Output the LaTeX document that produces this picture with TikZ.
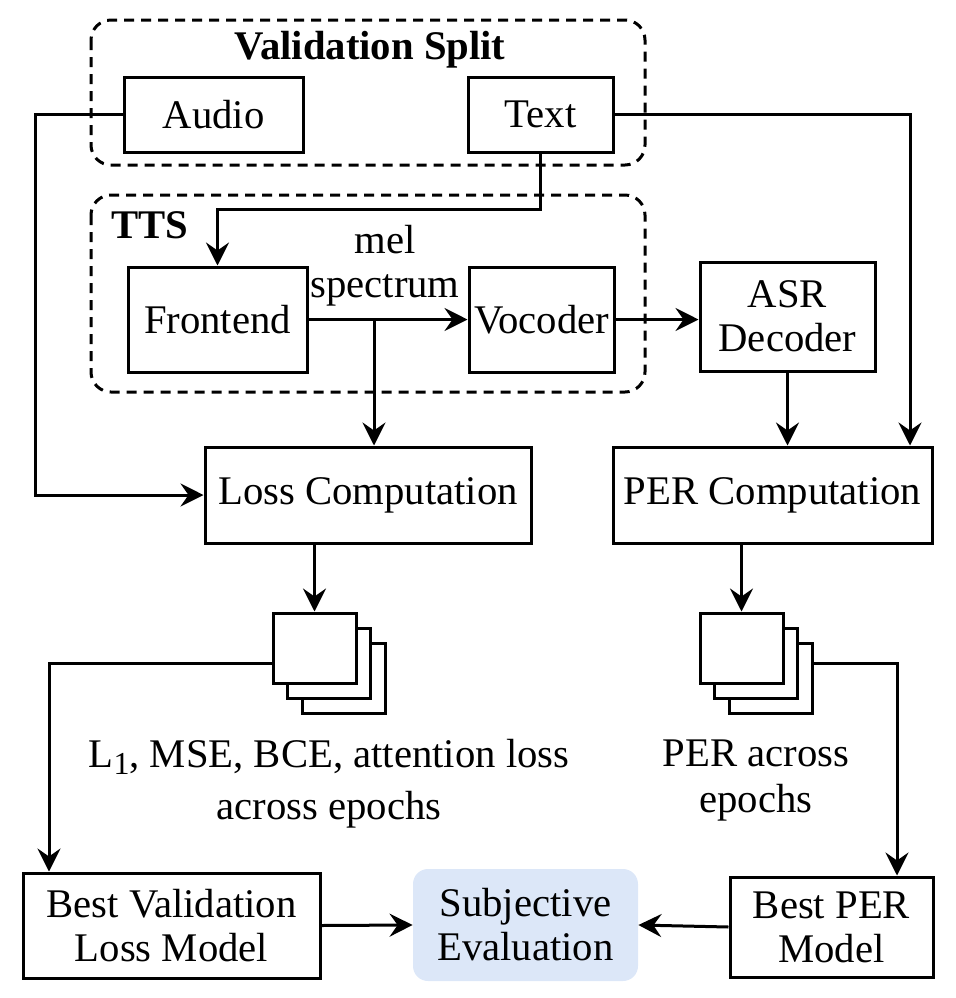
\documentclass[tikz,border=0pt]{standalone}
\usepackage{fontspec}
\setmainfont{Liberation Serif}
\usetikzlibrary{arrows.meta}
\definecolor{subjblue}{HTML}{DCE7F8}
\begin{document}
\begin{tikzpicture}[x=0.5pt,y=-0.5pt,
  font=\fontsize{20.35}{22}\selectfont,
  boxnode/.style={draw, line width=1.5pt, inner sep=0pt, align=center, fill=white},
  sq/.style={draw, line width=1.5pt, inner sep=0pt, fill=white, minimum width=41.5pt, minimum height=35pt},
  arr/.style={line width=1.5pt, -{Stealth[length=11.5pt,width=11.5pt,inset=4pt]}},
  ln/.style={line width=1.5pt},
  grp/.style={draw, line width=1.5pt, dash pattern=on 5pt off 3.5pt, rounded corners=10pt},
  lbl/.style={inner sep=0pt, align=center}]
\useasboundingbox (0,0) rectangle (956,998);

% group frames
\draw[grp] (91,20) rectangle (645,165);
\draw[grp] (91,195) rectangle (645,392);
\node[lbl, font=\fontsize{20.35}{22}\selectfont\bfseries] (vslbl) at (370,50) {Validation Split};
\node[lbl, font=\fontsize{20.35}{22}\selectfont\bfseries] (ttslbl) at (150,225) {TTS};

% nodes
\node[boxnode, minimum width=89.5pt, minimum height=37.5pt] (Audio) at (213.5,114.5) {Audio};
\node[boxnode, minimum width=72.5pt, minimum height=37.5pt] (Text) at (540.5,114.5) {Text};
\node[boxnode, minimum width=89.5pt, minimum height=52.5pt] (Frontend) at (217.5,319.5) {Frontend};
\node[boxnode, minimum width=72.5pt, minimum height=52.5pt] (Vocoder) at (541.5,319.5) {Vocoder};
\node[boxnode, minimum width=87.5pt, minimum height=54.5pt] (ASR) at (787.5,316.5) {ASR\\Decoder};
\node[boxnode, minimum width=163pt, minimum height=48pt] (Loss) at (368,495) {Loss Computation};
\node[boxnode, minimum width=159.5pt, minimum height=48pt] (PER) at (772.5,495) {PER Computation};
\node[boxnode, minimum width=148.5pt, minimum height=52.5pt] (BestVal) at (171.5,925.5) {Best Validation\\Loss Model};
\node[inner sep=0pt, align=center, fill=subjblue, rounded corners=7.5pt, minimum width=112.5pt, minimum height=56pt] (Subj) at (525.5,925) {Subjective\\Evaluation};
\node[boxnode, minimum width=101.5pt, minimum height=50pt] (BestPER) at (831.5,927) {Best PER\\Model};

% stacks
\node[sq] (S1c) at (343.5,678) {};
\node[sq] (S1b) at (329,663) {};
\node[sq] (S1a) at (314.5,648) {};
\node[sq] (S2c) at (770.5,678) {};
\node[sq] (S2b) at (756,663) {};
\node[sq] (S2a) at (741.5,648) {};

% labels
\node[lbl] (mel) at (385,266) {mel\\spectrum};
\node[lbl] (l1lbl) at (329,784) {L\raisebox{-3.5pt}{\fontsize{16}{16}\selectfont 1}, MSE, BCE, attention loss\\[4pt]across epochs};
\node[lbl] (perlbl) at (756,780) {PER across\\[1pt]epochs};

% helper coordinates
\coordinate (xa) at (35,0);
\coordinate (xt) at (910,0);
\coordinate (yt) at (0,209);
\coordinate (br) at (374,319.5);
\coordinate (ls) at (49,663);
\coordinate (rs) at (897,663);

% connectors
\draw[arr] (Audio.west) -- (Audio.west -| xa) |- (Loss.west);
\draw[arr] (Text.east) -| (PER.north -| xt);
\draw[arr] (Text.south) -- (Text.south |- yt) -| (Frontend.north);
\draw[arr] (Frontend.east) -- (Vocoder.west);
\draw[arr] (br) -- (br |- Loss.north);
\draw[arr] (Vocoder.east) -- (Vocoder.east -| ASR.west);
\draw[arr] (ASR.south) -- (ASR.south |- PER.north);
\draw[arr] (S1a.north |- Loss.south) -- (S1a.north);
\draw[arr] (S2a.north |- PER.south) -- (S2a.north);
\draw[arr] (S1a.west |- ls) -| (ls |- BestVal.north);
\draw[arr] (S2c.east |- rs) -| (rs |- BestPER.north);
\draw[arr] (BestVal.east) -- (Subj.west);
\draw[arr] (BestPER.west) -- (Subj.east);
\end{tikzpicture}
\end{document}
